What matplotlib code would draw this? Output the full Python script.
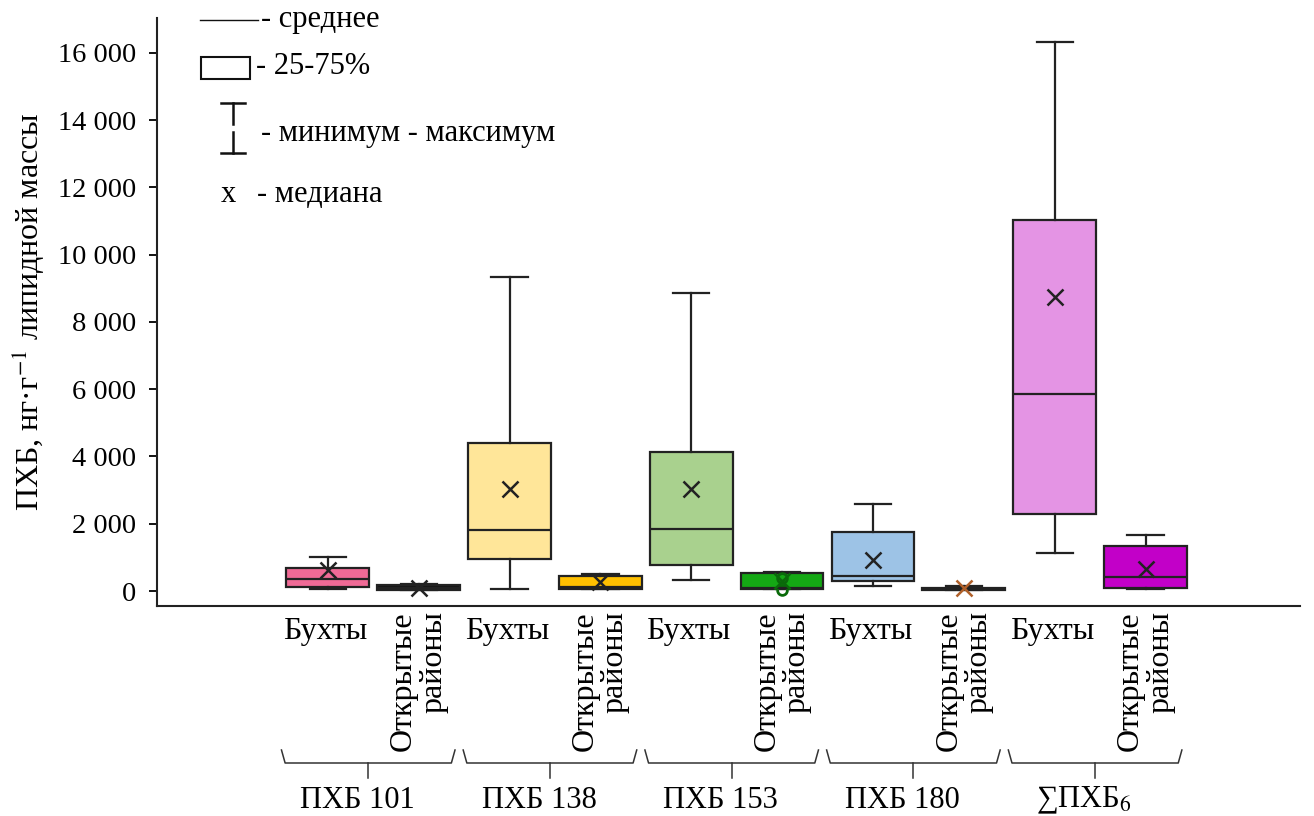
import matplotlib
matplotlib.use("agg")
import matplotlib.pyplot as plt
import matplotlib.transforms as mtransforms
from matplotlib.patches import Rectangle
from matplotlib.ticker import FuncFormatter, MultipleLocator

plt.rcParams["font.family"] = ["Liberation Serif", "DejaVu Serif"]
plt.rcParams["mathtext.fontset"] = "stix"

groups = ["ПХБ 101", "ПХБ 138", "ПХБ 153", "ПХБ 180", "∑ПХБ$_6$"]
sites = ["Бухты", "Открытые\nрайоны"]

# order: (group, site) pairs, Бухты then Открытые районы
minimum = [60, 30, 50, 60, 330, 60, 150, 30, 1130, 60]
q25 = [120, 40, 950, 60, 770, 60, 300, 40, 2290, 90]
mean_line = [360, 100, 1810, 120, 1850, 100, 450, 60, 5860, 420]
q75 = [680, 170, 4400, 450, 4140, 530, 1750, 90, 11030, 1340]
maximum = [1010, 200, 9340, 500, 8860, 560, 2590, 150, 16330, 1670]
median_x = [620, 100, 3030, 270, 3030, 300, 920, 80, 8740, 650]
outliers = [[], [], [], [], [], [390, 30], [], [], [], []]
fills = ["#F06A96", "#151515", "#FFE699", "#FFC000", "#A9D18E",
         "#14A814", "#9DC3E6", "#3A1E0E", "#E494E4", "#C200C8"]
marker_colors = ["#222222", "#222222", "#222222", "#222222", "#222222",
                 "#0A6A0A", "#222222", "#B0602A", "#222222", "#222222"]

W, H = 1314, 816
fig = plt.figure(figsize=(W / 100, H / 100), dpi=100)
ax = fig.add_axes([157 / W, 1 - 606 / H, (1300 - 157) / W, (606 - 18) / H])

stats = []
for i in range(len(q25)):
    stats.append({
        "whislo": minimum[i], "q1": q25[i], "med": mean_line[i],
        "q3": q75[i], "whishi": maximum[i], "fliers": outliers[i],
    })
positions = list(range(len(stats)))
edge = "#222222"
parts = ax.bxp(
    stats, positions=positions, widths=0.91, patch_artist=True,
    showfliers=True, manage_ticks=False,
    boxprops=dict(edgecolor=edge, linewidth=1.6),
    medianprops=dict(color=edge, linewidth=1.6),
    whiskerprops=dict(color=edge, linewidth=1.6),
    capprops=dict(color=edge, linewidth=1.6),
    flierprops=dict(marker="o", markersize=7, markerfacecolor="none",
                    markeredgecolor="#0A6A0A", markeredgewidth=2),
)
for box, color in zip(parts["boxes"], fills):
    box.set_facecolor(color)
for cap in parts["caps"]:
    x0, x1 = cap.get_xdata()
    mid = (x0 + x1) / 2
    cap.set_xdata([mid - 0.2, mid + 0.2])

for pos, val, color in zip(positions, median_x, marker_colors):
    ax.plot(pos, val, marker="x", markersize=11, markeredgewidth=1.8,
            color=color, zorder=5)

ax.set_xlim(-1.88, 10.7)
ax.set_ylim(-446, 17040)
ax.yaxis.set_major_locator(MultipleLocator(2000))
ax.yaxis.set_major_formatter(
    FuncFormatter(lambda v, _: f"{v:,.0f}".replace(",", " ")))
ax.tick_params(axis="y", direction="out", length=6, width=1.3,
               labelsize=20.5, pad=9)
ax.set_xticks([])
for side in ["top", "right"]:
    ax.spines[side].set_visible(False)
for side in ["left", "bottom"]:
    ax.spines[side].set_linewidth(1.5)
    ax.spines[side].set_color("#222222")

ax.set_ylabel("ПХБ, нг·г$^{-1}$ липидной массы", fontsize=23, labelpad=8)

# category labels, braces and group names
trans = mtransforms.blended_transform_factory(ax.transData, fig.transFigure)
for g, name in enumerate(groups):
    pb, po = 2 * g, 2 * g + 1
    ax.text(pb - 0.03, 1 - 632 / H, sites[0], transform=trans,
            ha="center", va="center", fontsize=23)
    ax.text(po, 1 - 611 / H, sites[1], transform=trans, rotation=90,
            ha="center", va="top", multialignment="right", fontsize=23,
            linespacing=1.05)
    left, right = pb - 0.51, po + 0.4
    cen = (left + right) / 2
    yt, ym, yb = 1 - 750 / H, 1 - 763 / H, 1 - 778 / H
    ax.plot([left, left + 0.04, right - 0.04, right], [yt, ym, ym, yt],
            transform=trans, color="#333333", lw=1.1, clip_on=False)
    ax.plot([cen, cen], [ym, yb], transform=trans, color="#333333",
            lw=1.1, clip_on=False)
    ax.text(cen - 0.12, 1 - 800 / H, name, transform=trans,
            ha="center", va="center", fontsize=22)

# hand-made legend
def fx(x):
    return x / W


def fy(y):
    return 1 - y / H


lk = dict(transform=fig.transFigure, color="#111111", clip_on=False)
fig.add_artist(plt.Line2D([fx(200), fx(258)], [fy(20), fy(20)], lw=1.0, **lk))
fig.text(fx(261), fy(20), "- среднее", fontsize=22, va="center")
fig.add_artist(Rectangle((fx(201), fy(79)), fx(49), 22 / H, fill=False,
                         lw=1.5, edgecolor="#111111",
                         transform=fig.transFigure))
fig.text(fx(256), fy(66), "- 25-75%", fontsize=22, va="center")
fig.add_artist(plt.Line2D([fx(221), fx(245)], [fy(103), fy(103)], lw=1.8, **lk))
fig.add_artist(plt.Line2D([fx(233), fx(233)], [fy(103), fy(124)], lw=1.8, **lk))
fig.add_artist(plt.Line2D([fx(233), fx(233)], [fy(132), fy(153)], lw=1.8, **lk))
fig.add_artist(plt.Line2D([fx(221), fx(245)], [fy(153), fy(153)], lw=1.8, **lk))
fig.text(fx(261), fy(133), "- минимум - максимум", fontsize=22, va="center")
fig.text(fx(228), fy(195), "x", fontsize=22, va="center", ha="center")
fig.text(fx(257), fy(195), "- медиана", fontsize=22, va="center")

fig.savefig("out.png", dpi=100)
